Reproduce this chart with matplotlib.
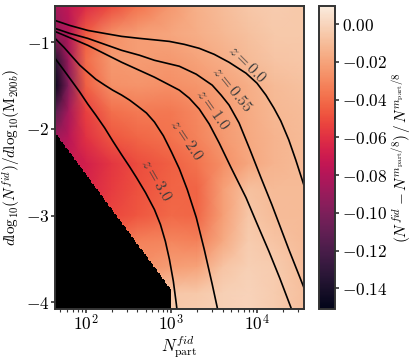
import numpy as np
import matplotlib
matplotlib.use("Agg")
import matplotlib.pyplot as plt
import seaborn as sns
from matplotlib.colors import Normalize, ListedColormap
from matplotlib.ticker import LogLocator, NullFormatter

plt.rcParams['mathtext.fontset'] = 'cm'
plt.rcParams['font.family'] = ['DejaVu Serif']

# ---------------- data ----------------
# heat map grid (log10 N_part columns, slope rows top->bottom)
heat_logn = [1.64, 1.8, 2.0, 2.3, 2.6, 3.0, 3.3, 3.6, 3.9, 4.2, 4.55]
heat_slope = [-0.58, -0.9, -1.2, -1.5, -1.8, -2.1, -2.4, -2.7, -3.0, -3.3, -3.6, -3.9, -4.08]
heat_values = [
    [-0.085, -0.075, -0.062, -0.050, -0.038, -0.024, -0.015, -0.010, -0.006, -0.004, -0.005],
    [-0.092, -0.080, -0.045, -0.028, -0.022, -0.019, -0.016, -0.012, -0.008, -0.005, -0.005],
    [-0.135, -0.088, -0.040, -0.024, -0.023, -0.024, -0.020, -0.016, -0.011, -0.007, -0.006],
    [-0.150, -0.098, -0.044, -0.027, -0.026, -0.028, -0.025, -0.021, -0.016, -0.011, -0.008],
    [-0.115, -0.085, -0.055, -0.039, -0.035, -0.036, -0.030, -0.023, -0.017, -0.012, -0.010],
    [-0.088, -0.078, -0.060, -0.047, -0.042, -0.038, -0.032, -0.024, -0.018, -0.013, -0.011],
    [-0.080, -0.072, -0.068, -0.058, -0.050, -0.044, -0.038, -0.028, -0.019, -0.013, -0.011],
    [-0.075, -0.070, -0.065, -0.056, -0.049, -0.043, -0.043, -0.022, -0.008, -0.011, -0.011],
    [-0.070, -0.065, -0.060, -0.052, -0.047, -0.041, -0.042, -0.022, -0.006, -0.010, -0.011],
    [-0.060, -0.055, -0.050, -0.042, -0.033, -0.031, -0.033, -0.018, -0.004, -0.007, -0.011],
    [-0.050, -0.045, -0.040, -0.035, -0.028, -0.022, -0.020, -0.007, -0.002, -0.004, -0.010],
    [-0.030, -0.025, -0.020, -0.015, -0.010, -0.006, -0.005, -0.002, -0.001, -0.004, -0.009],
    [-0.025, -0.020, -0.015, -0.012, -0.008, -0.005, -0.004, -0.002, -0.001, -0.004, -0.009],
]

# edge of the region without data (drawn black)
mask_edge_logn = [1.64, 3.0]
mask_edge_slope = [-2.04, -3.86]

# redshift curves: log10 N_part and slope
curve_labels = ['0.0', '0.55', '1.0', '2.0', '3.0']
curve_logn = [
    [1.640, 1.814, 2.023, 2.221, 2.419, 2.628, 2.802, 2.977, 3.151, 3.326, 3.500,
     3.674, 3.872, 4.000, 4.105, 4.198, 4.279, 4.372, 4.453, 4.547],
    [1.640, 1.814, 2.023, 2.221, 2.419, 2.628, 2.802, 3.093, 3.291, 3.477, 3.581,
     3.674, 3.791, 3.919, 4.047, 4.174, 4.372, 4.547],
    [1.640, 2.023, 2.419, 2.802, 3.093, 3.209, 3.326, 3.442, 3.558, 3.698, 3.872,
     4.000, 4.140, 4.267, 4.395, 4.419],
    [1.640, 1.744, 1.837, 1.930, 2.023, 2.116, 2.221, 2.314, 2.419, 2.512, 2.605,
     2.709, 2.802, 2.907, 3.000, 3.093, 3.186, 3.291, 3.384, 3.477, 3.535, 3.547],
    [1.640, 1.744, 1.837, 1.930, 2.023, 2.116, 2.221, 2.314, 2.419, 2.512, 2.593,
     2.698, 2.802, 2.872, 2.930, 2.977, 3.023, 3.058, 3.070],
]
curve_slope = [
    [-0.747, -0.805, -0.862, -0.897, -0.931, -0.954, -0.971, -0.989, -1.023, -1.069,
     -1.138, -1.230, -1.356, -1.471, -1.609, -1.759, -1.908, -2.126, -2.356, -2.644],
    [-0.839, -0.897, -0.954, -1.023, -1.092, -1.149, -1.207, -1.276, -1.368, -1.494,
     -1.609, -1.724, -1.931, -2.241, -2.563, -2.874, -3.391, -3.828],
    [-0.874, -1.034, -1.230, -1.402, -1.552, -1.644, -1.770, -1.943, -2.161, -2.448,
     -2.793, -3.092, -3.414, -3.724, -4.057, -4.126],
    [-0.954, -1.057, -1.161, -1.264, -1.345, -1.425, -1.494, -1.552, -1.609, -1.667,
     -1.736, -1.816, -1.920, -2.080, -2.264, -2.460, -2.701, -3.023, -3.391, -3.793,
     -4.057, -4.126],
    [-1.184, -1.322, -1.448, -1.575, -1.713, -1.839, -1.989, -2.138, -2.299, -2.437,
     -2.563, -2.736, -2.931, -3.103, -3.299, -3.506, -3.759, -4.023, -4.126],
]
# label anchor (log10 N, slope) and rotation
label_logn = [3.885, 3.71, 3.48, 3.175, 2.825]
label_slope = [-1.25, -1.54, -1.775, -2.125, -2.59]
label_rot = [-45, -51, -55, -56, -60]

xticks = [1e2, 1e3, 1e4]
xticklabels = [r'$10^{2}$', r'$10^{3}$', r'$10^{4}$']
yticks = [-1, -2, -3, -4]
yticklabels = [r'$-1$', r'$-2$', r'$-3$', r'$-4$']
cticks = [0.0, -0.02, -0.04, -0.06, -0.08, -0.10, -0.12, -0.14]
cticklabels = [r'$0.00$', r'$-0.02$', r'$-0.04$', r'$-0.06$', r'$-0.08$',
               r'$-0.10$', r'$-0.12$', r'$-0.14$']
vmin, vmax = -0.151, 0.0096
xlim_log = (1.64, 4.55)
ylim = (-4.08, -0.58)

# ---------------- plot ----------------
cmap = sns.color_palette('rocket', as_cmap=True)
norm = Normalize(vmin=vmin, vmax=vmax)
spine_col = '#333333'
fs = 12.5

fig = plt.figure(figsize=(4.16, 3.63), dpi=100)
ax = fig.add_axes([55 / 416, 54 / 363, 249 / 416, 303 / 363])
cax = fig.add_axes([319 / 416, 54 / 363, 16 / 416, 303 / 363])

X, Y = np.meshgrid(10 ** np.array(heat_logn), np.array(heat_slope))
ax.pcolormesh(X, Y, np.array(heat_values), shading='gouraud', cmap=cmap, norm=norm)

# black no-data region on a fine grid
mx = np.linspace(xlim_log[0], mask_edge_logn[1], 91)
my = np.linspace(ylim[0], mask_edge_slope[0] + 0.03, 150)
cx = 0.5 * (mx[1:] + mx[:-1])
cy = 0.5 * (my[1:] + my[:-1])
edge = np.interp(cx, mask_edge_logn, mask_edge_slope)
black = cy[:, None] < edge[None, :]
marr = np.ma.masked_where(~black, np.ones_like(black, dtype=float))
ax.pcolormesh(10 ** mx, my, marr, cmap=ListedColormap(['black']), shading='flat',
              antialiased=False, linewidth=0)

for lx, sl in zip(curve_logn, curve_slope):
    ax.plot(10 ** np.array(lx), sl, color='black', lw=1.2, solid_joinstyle='round')
for lab, lx, sl, rot in zip(curve_labels, label_logn, label_slope, label_rot):
    ax.text(10 ** lx, sl, r'$z = %s$' % lab, rotation=rot, rotation_mode='anchor',
            ha='center', va='center', fontsize=11.5, color='#3c3c3c')

ax.set_xscale('log')
ax.set_xlim(10 ** xlim_log[0], 10 ** xlim_log[1])
ax.set_ylim(*ylim)
ax.set_xticks(xticks, xticklabels)
ax.xaxis.set_minor_locator(LogLocator(base=10, subs=np.arange(2, 10)))
ax.xaxis.set_minor_formatter(NullFormatter())
ax.set_yticks(yticks, yticklabels)
ax.tick_params(which='major', direction='out', length=3, width=1.2, color=spine_col,
               labelsize=fs, pad=1)
ax.tick_params(which='minor', direction='out', length=1.8, width=0.8, color=spine_col)
for s in ax.spines.values():
    s.set_color(spine_col)
    s.set_linewidth(1.4)

ax.set_xlabel(r'$N^{fid}_{\rm part}$', fontsize=12, labelpad=-1)
ax.set_ylabel(r'$d{\rm log}_{10}(N^{fid})/d{\rm log}_{10}({\rm M}_{200b})$', fontsize=11,
              labelpad=2)

sm = plt.cm.ScalarMappable(norm=norm, cmap=cmap)
cb = fig.colorbar(sm, cax=cax)
cb.set_ticks(cticks, labels=cticklabels)
cb.ax.tick_params(direction='out', length=3, width=1.2, color=spine_col, labelsize=fs, pad=2)
cb.outline.set_edgecolor(spine_col)
cb.outline.set_linewidth(1.4)
cb.set_label(r'$(N^{fid} - N^{m_{\rm part}/8})\,/\,N^{m_{\rm part}/8}$', fontsize=11,
             labelpad=2)

fig.savefig('out.png', dpi=100)
